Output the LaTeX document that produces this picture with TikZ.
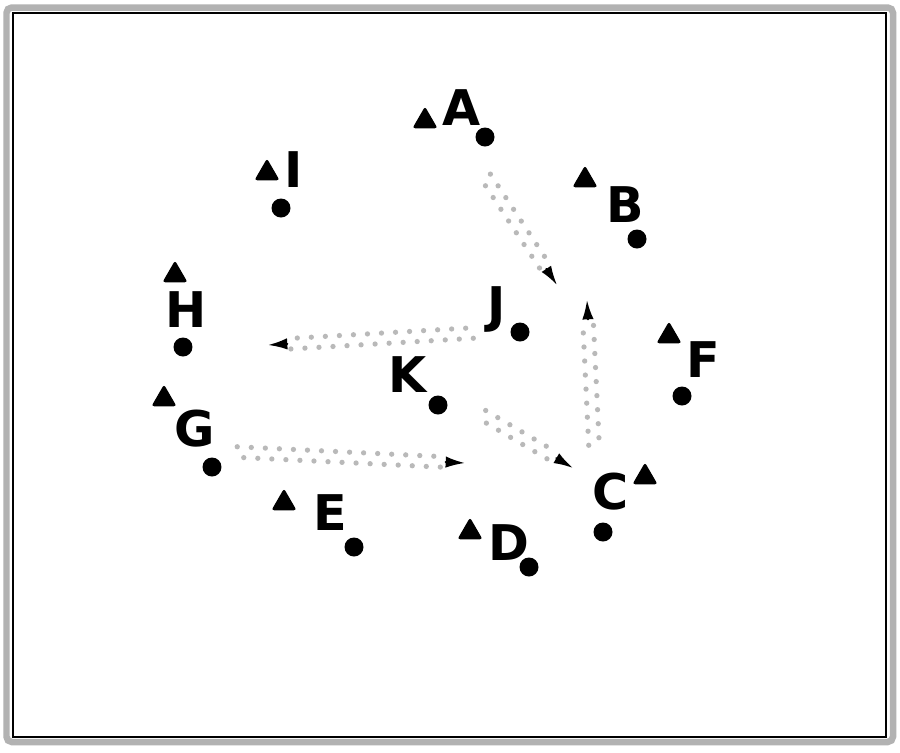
\documentclass[tikz,border=0pt]{standalone}
\usepackage{fontspec}
\setmainfont{DejaVu Sans}
\usetikzlibrary{shapes.geometric,arrows.meta,calc}
\tikzset{
  lbl/.style={font=\fontsize{28}{30}\selectfont\bfseries,inner sep=0pt,anchor=base},
  ball/.style={circle,fill=black,minimum size=0.38cm,inner sep=0pt},
  tri/.style={regular polygon,regular polygon sides=3,fill=black,minimum size=0.58cm,inner sep=0pt,rounded corners=1.5pt},
  flow/.style={draw=gray!55,line width=3pt,line cap=round,dash pattern=on 0pt off 8pt},
  head/.style={line width=1.2pt,line cap=round,-{Latex[length=11pt,width=6.5pt]}}
}
\begin{document}
\begin{tikzpicture}[x=0.02cm,y=-0.02cm]
\useasboundingbox[fill=white] (0,0) rectangle (900,752);
% frame
\draw[gray!60,line width=0.13cm,rounded corners=3pt] (6.5,7.5) rectangle (893,742);
\draw[line width=0.6pt] (13,13) rectangle (886,737);

% letters
\foreach \n/\x/\y in {A/462/125,B/625/222,C/611/509,D/509/560,E/330/530,F/703/377,G/195/446,H/186/327,I/294/187,J/497/322,K/408/392}{ \node[lbl] (\n) at (\x,\y){\n};}

% triangles
\foreach \n/\x/\y in {A/425/121,B/585/180,C/645/477,D/470/532,E/284/503,F/669/336,G/164/399,H/175/275,I/267/173}{ \node[tri] (t\n) at (\x,\y){};}

% circles
\foreach \n/\x/\y in {A/485/137,B/637/239,C/603/532,D/529/567,E/354/547,F/682/396,G/212/467,H/183/347,I/281/208,J/520/332,K/438/405}{ \node[ball] (c\n) at (\x,\y){};}

% arrows
\coordinate (p1) at (486,177); \coordinate (q1) at (557,285);
\coordinate (p2) at (594,445); \coordinate (q2) at (587,300);
\coordinate (p3) at (473,333); \coordinate (q3) at (268,345);
\coordinate (p4) at (237,452); \coordinate (q4) at (465,463);
\coordinate (p5) at (483,415); \coordinate (q5) at (573,468);
\foreach \a/\b in {p1/q1,p2/q2,p3/q3,p4/q4,p5/q5}{
  \draw[flow] ($(\a)!3pt!90:(\b)$) -- ($(\b)!12pt!(\a)!3pt!-90:(\a)$);
  \draw[flow,dash phase=4pt] ($(\a)!3pt!-90:(\b)$) -- ($(\b)!12pt!(\a)!3pt!90:(\a)$);
  \draw[head] ($(\b)!11pt!(\a)$) -- (\b);}

\end{tikzpicture}
\end{document}
